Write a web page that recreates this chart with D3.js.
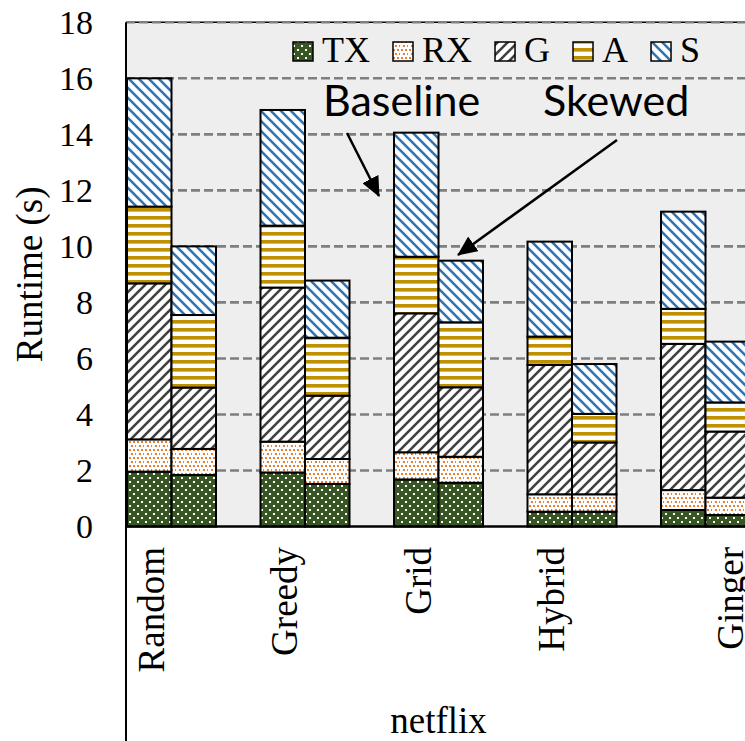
<!DOCTYPE html>
<html>
<head>
<meta charset="utf-8">
<script src="https://cdn.jsdelivr.net/npm/d3@7"></script>
<style>
  html, body { margin: 0; padding: 0; background: #ffffff; }
  svg { display: block; }
</style>
</head>
<body>
<svg id="chart" width="745" height="741"></svg>
<script>
// Runtime breakdown per placement strategy, netflix workload
const categories = ["Random", "Greedy", "Grid", "Hybrid", "Ginger"];
const variants = ["Baseline", "Skewed"];
const components = ["TX", "RX", "G", "A", "S"];
const yTicks = [0, 2, 4, 6, 8, 10, 12, 14, 16, 18];

// Baseline runs (seconds)
const baseTX = [1.96, 1.93, 1.68, 0.53, 0.59];
const baseRX = [1.15, 1.10, 0.97, 0.62, 0.71];
const baseG  = [5.57, 5.50, 4.96, 4.62, 5.22];
const baseA  = [2.74, 2.21, 2.02, 1.01, 1.25];
const baseS  = [4.58, 4.13, 4.43, 3.39, 3.47];

// Skewed runs (seconds)
const skewTX = [1.84, 1.52, 1.56, 0.53, 0.41];
const skewRX = [0.93, 0.89, 0.93, 0.62, 0.62];
const skewG  = [2.19, 2.26, 2.48, 1.85, 2.36];
const skewA  = [2.59, 2.07, 2.32, 1.02, 1.04];
const skewS  = [2.45, 2.04, 2.20, 1.78, 2.17];

const series = {
  Baseline: { TX: baseTX, RX: baseRX, G: baseG, A: baseA, S: baseS },
  Skewed:   { TX: skewTX, RX: skewRX, G: skewG, A: skewA, S: skewS }
};

// one row per bar, stacked with d3.stack
const rows = [];
categories.forEach((c, i) => {
  variants.forEach(v => {
    const r = { category: c, variant: v };
    components.forEach(k => { r[k] = series[v][k][i]; });
    rows.push(r);
  });
});
const stacked = d3.stack().keys(components)(rows);

const svg = d3.select("#chart");
const serif = "'Liberation Serif', 'Times New Roman', serif";
const sans = "Lato, 'Open Sans', sans-serif";

const plotLeft = 126, plotTop = 22.3, plotBottom = 526.5, plotRight = 745;

const y = d3.scaleLinear().domain([0, 18]).range([plotBottom, plotTop]);
const x = d3.scaleBand().domain(categories)
  .range([104.75, 772.25]).paddingInner(1 / 3).paddingOuter(1 / 6);
const x1 = d3.scaleBand().domain(variants).range([0, x.bandwidth()]);

// fill patterns
const defs = svg.append("defs");
function pat(id, w, h) {
  return defs.append("pattern").attr("id", id)
    .attr("patternUnits", "userSpaceOnUse").attr("width", w).attr("height", h);
}
let p = pat("pTX", 8, 8);
p.append("rect").attr("width", 8).attr("height", 8).attr("fill", "#375623");
[[1, 1], [5, 5]].forEach(([a, b]) => p.append("rect").attr("x", a).attr("y", b)
  .attr("width", 2).attr("height", 2).attr("fill", "#ffffff"));

p = pat("pRX", 8, 8);
p.append("rect").attr("width", 8).attr("height", 8).attr("fill", "#ffffff");
[[1, 1], [5, 1], [3, 5], [7, 5]].forEach(([a, b]) => p.append("rect").attr("x", a).attr("y", b)
  .attr("width", 2).attr("height", 2).attr("fill", "#ED7D31"));

p = pat("pG", 10, 10);
p.append("rect").attr("width", 10).attr("height", 10).attr("fill", "#ffffff");
p.append("path").attr("d", "M-2,2 L2,-2 M0,10 L10,0 M8,12 L12,8")
  .attr("stroke", "#404040").attr("stroke-width", 2.6);

p = pat("pA", 8, 8);
p.append("rect").attr("width", 8).attr("height", 8).attr("fill", "#ffffff");
p.append("rect").attr("y", 0).attr("width", 8).attr("height", 3.6).attr("fill", "#BF9000");

p = pat("pS", 10, 10);
p.append("rect").attr("width", 10).attr("height", 10).attr("fill", "#ffffff");
p.append("path").attr("d", "M-2,8 L2,12 M0,0 L10,10 M8,-2 L12,2")
  .attr("stroke", "#2E75B6").attr("stroke-width", 2.6);

const fills = { TX: "url(#pTX)", RX: "url(#pRX)", G: "url(#pG)", A: "url(#pA)", S: "url(#pS)" };

// plot area
svg.append("rect").attr("x", plotLeft).attr("y", plotTop)
  .attr("width", plotRight - plotLeft).attr("height", plotBottom - plotTop)
  .attr("fill", "#EEEEEE");

// top border and gridlines
svg.append("line").attr("x1", plotLeft).attr("x2", plotRight)
  .attr("y1", y(18)).attr("y2", y(18)).attr("stroke", "#000").attr("stroke-width", 1.5);
svg.append("g").selectAll("line").data(yTicks.filter(t => t > 0)).join("line")
  .attr("x1", plotLeft).attr("x2", plotRight)
  .attr("y1", d => y(d)).attr("y2", d => y(d))
  .attr("stroke", "#7F7F7F").attr("stroke-width", 2.6).attr("stroke-dasharray", "9,4");

// bars
const layer = svg.append("g");
stacked.forEach(s => {
  layer.append("g").selectAll("rect").data(s).join("rect")
    .attr("x", d => x(d.data.category) + x1(d.data.variant))
    .attr("width", x1.bandwidth())
    .attr("y", d => y(d[1]))
    .attr("height", d => y(d[0]) - y(d[1]))
    .attr("fill", fills[s.key])
    .attr("stroke", "#000").attr("stroke-width", 2);
});

// axes lines
svg.append("line").attr("x1", plotLeft).attr("x2", plotLeft)
  .attr("y1", plotTop).attr("y2", 741).attr("stroke", "#000").attr("stroke-width", 2);
svg.append("line").attr("x1", plotLeft).attr("x2", plotRight)
  .attr("y1", y(0)).attr("y2", y(0)).attr("stroke", "#000").attr("stroke-width", 2.5);

// y axis labels
const yAxis = svg.append("g").attr("transform", `translate(${plotLeft},0)`)
  .call(d3.axisLeft(y).tickValues(yTicks).tickSize(0).tickPadding(33).tickFormat(d3.format("d")));
yAxis.select(".domain").remove();
yAxis.selectAll("text").attr("font-family", serif).attr("font-size", 34).attr("fill", "#000");

svg.append("text").attr("transform", `translate(42,${(plotTop + plotBottom) / 2}) rotate(-90)`)
  .attr("text-anchor", "middle").attr("font-family", serif).attr("font-size", 37)
  .text("Runtime (s)");

// category labels (rotated)
const labelShift = [0, 0, 0, 0, 45];
svg.append("g").selectAll("text").data(categories).join("text")
  .attr("transform", (d, i) => `translate(${x(d) + x.bandwidth() / 2 - 8 + labelShift[i]},547) rotate(-90)`)
  .attr("text-anchor", "end").attr("font-family", serif).attr("font-size", 37)
  .text(d => d);

svg.append("text").attr("x", x("Grid") + x.bandwidth() / 2).attr("y", 733)
  .attr("text-anchor", "middle").attr("font-family", serif).attr("font-size", 37)
  .text("netflix");

// legend
const legend = svg.append("g");
let lx = 293;
components.forEach(k => {
  legend.append("rect").attr("x", lx).attr("y", 42).attr("width", 20).attr("height", 19)
    .attr("fill", fills[k]).attr("stroke", "#000").attr("stroke-width", 1.5);
  const t = legend.append("text").attr("x", lx + 29).attr("y", 62)
    .attr("font-family", serif).attr("font-size", 36).text(k);
  lx += 29 + t.node().getComputedTextLength() + 23;
});

// annotations
svg.append("text").attr("x", 323).attr("y", 116).attr("font-family", sans)
  .attr("font-size", 43).text("Baseline");
svg.append("text").attr("x", 543).attr("y", 116).attr("font-family", sans)
  .attr("font-size", 43).text("Skewed");

defs.append("marker").attr("id", "head")
  .attr("markerUnits", "userSpaceOnUse").attr("markerWidth", 20).attr("markerHeight", 18)
  .attr("viewBox", "0 0 20 18").attr("refX", 19).attr("refY", 9).attr("orient", "auto")
  .append("path").attr("d", "M0,0 L20,9 L0,18 Z").attr("fill", "#000");

svg.append("line").attr("x1", 347).attr("y1", 133).attr("x2", 379).attr("y2", 196)
  .attr("stroke", "#000").attr("stroke-width", 2.5).attr("marker-end", "url(#head)");
svg.append("line").attr("x1", 617).attr("y1", 140).attr("x2", 458).attr("y2", 255)
  .attr("stroke", "#000").attr("stroke-width", 2.5).attr("marker-end", "url(#head)");
</script>
</body>
</html>
